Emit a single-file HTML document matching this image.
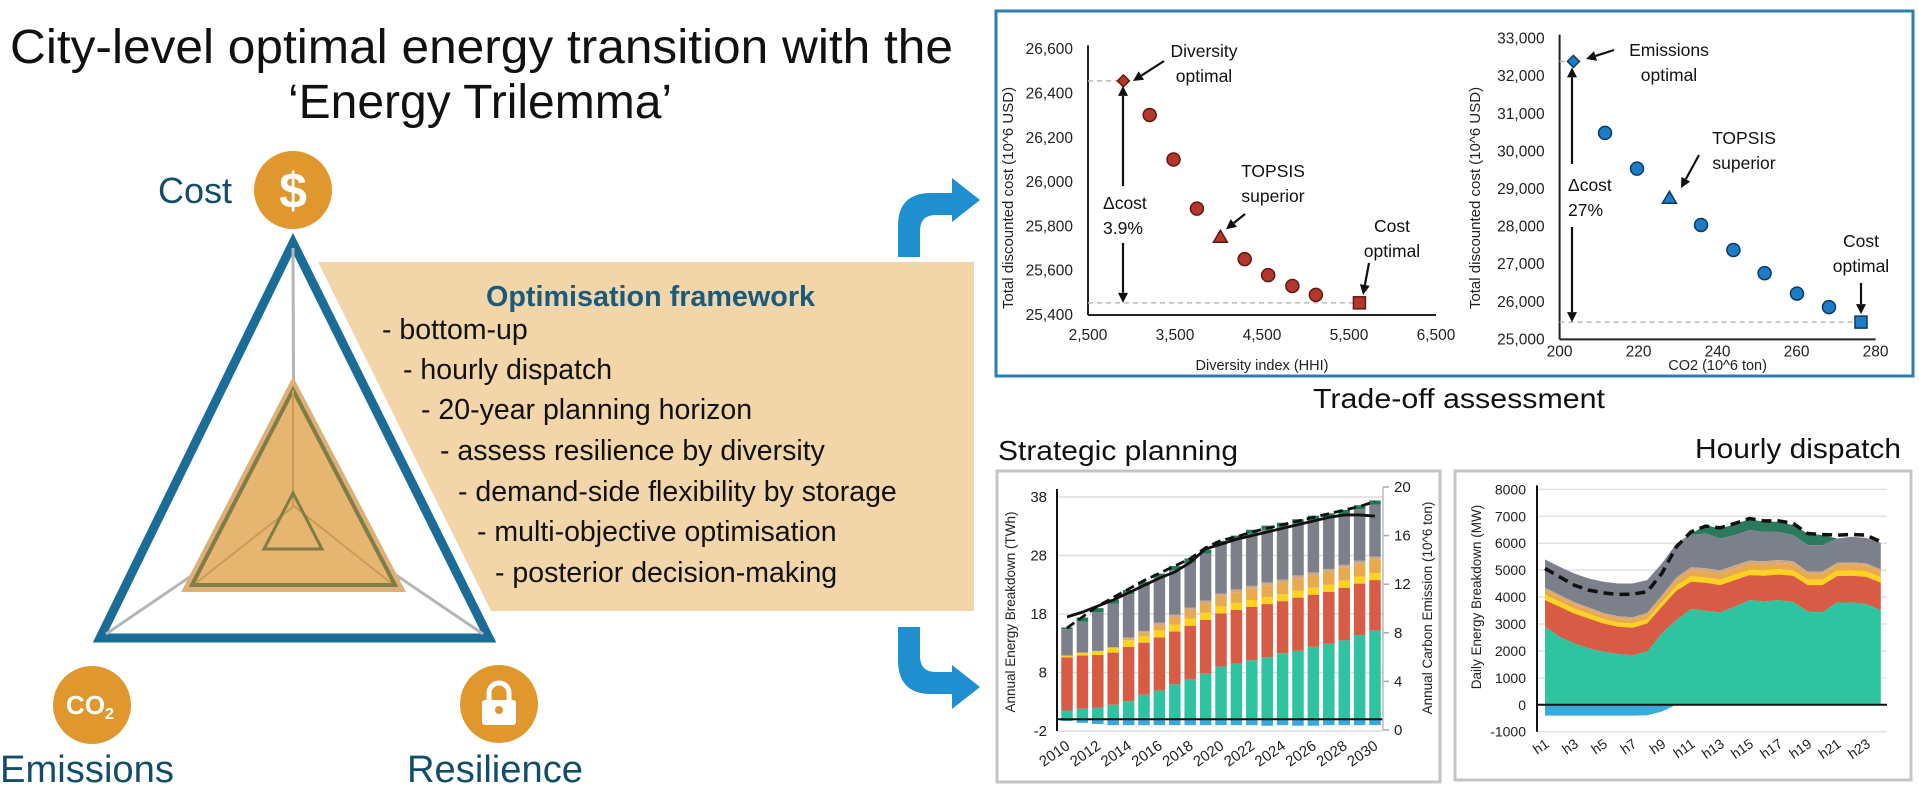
<!DOCTYPE html>
<html><head><meta charset="utf-8"><style>
html,body{margin:0;padding:0;background:#fff;}
svg{display:block;font-family:"Liberation Sans",Arial,sans-serif;}
</style></head><body>
<svg id="root" width="1919" height="791" viewBox="0 0 1919 791" xmlns="http://www.w3.org/2000/svg">
<rect x="0" y="0" width="1919" height="791" fill="#ffffff"/>
<!-- Title -->
<text x="10" y="63" font-size="48" fill="#111" textLength="943" lengthAdjust="spacingAndGlyphs">City-level optimal energy transition with the</text>
<text x="480" y="118" font-size="48" fill="#111" text-anchor="middle">‘Energy Trilemma’</text>

<!-- Beige framework panel -->
<polygon points="318,262 974,262 974,611 491,611" fill="#f2d5a9"/>
<text x="486" y="306" font-size="29" font-weight="bold" fill="#1b5a7a" textLength="329" lengthAdjust="spacingAndGlyphs">Optimisation framework</text>
<g font-size="28.5" fill="#111">
<text x="382" y="339">- bottom-up</text>
<text x="403" y="379">- hourly dispatch</text>
<text x="421" y="419">- 20-year planning horizon</text>
<text x="440" y="460">- assess resilience by diversity</text>
<text x="458" y="501">- demand-side flexibility by storage</text>
<text x="477" y="541">- multi-objective optimisation</text>
<text x="495" y="582">- posterior decision-making</text>
</g>

<!-- Trilemma triangle -->
<g>
<polygon points="293,243 100,638 489,638" fill="#fff" stroke="#1b6d98" stroke-width="9" stroke-linejoin="miter"/>
<line x1="294" y1="506" x2="293" y2="248" stroke="#b5b5b5" stroke-width="3"/>
<line x1="294" y1="506" x2="106" y2="634" stroke="#b5b5b5" stroke-width="3"/>
<line x1="294" y1="506" x2="483" y2="634" stroke="#b5b5b5" stroke-width="3"/>
<polygon points="293,383 186,589 401,589" fill="#e6b670" stroke="#dcb077" stroke-width="6"/>
<polygon points="293,390 192,585 395,585" fill="none" stroke="#7f7c45" stroke-width="4"/>
<line x1="293" y1="390" x2="293" y2="506" stroke="#c99a58" stroke-width="2"/>
<line x1="294" y1="506" x2="196" y2="583" stroke="#c99a58" stroke-width="2"/>
<line x1="294" y1="506" x2="391" y2="583" stroke="#c99a58" stroke-width="2"/>
<polygon points="293,493 264,549 322,549" fill="none" stroke="#7f7c45" stroke-width="3"/>
</g>

<!-- Icons and labels -->
<text x="158" y="203" font-size="36" fill="#124e6c">Cost</text>
<circle cx="293" cy="190" r="39" fill="#e0982e"/>
<text x="293" y="208" font-size="50" font-weight="bold" fill="#fff" text-anchor="middle">$</text>

<circle cx="92" cy="705" r="39" fill="#e0982e"/>
<text x="90" y="714" font-size="26" font-weight="bold" fill="#fff" text-anchor="middle">CO<tspan font-size="16" dy="5">2</tspan></text>
<text x="0" y="782" font-size="38" fill="#124e6c" textLength="174" lengthAdjust="spacingAndGlyphs">Emissions</text>

<circle cx="499" cy="704" r="39" fill="#e0982e"/>
<path d="M489,703 v-10 a10,10 0 0 1 20,0 v10" fill="none" stroke="#fff" stroke-width="5"/>
<rect x="482" y="700" width="34" height="25" rx="3" fill="#fff"/>
<circle cx="499" cy="710" r="4" fill="#e0982e"/>
<text x="407" y="782" font-size="38" fill="#124e6c" textLength="176" lengthAdjust="spacingAndGlyphs">Resilience</text>

<!-- Blue arrows -->
<path d="M898,257 L898,226 Q898,193 931,193 L952,193 L952,178 L980,200 L952,222 L952,215 L936,215 Q920,215 920,231 L920,257 Z" fill="#1f8fd0"/>
<path d="M898,627 L898,660 Q898,694 931,694 L952,694 L952,709 L980,687 L952,665 L952,672 L936,672 Q920,672 920,656 L920,627 Z" fill="#1f8fd0"/>

<!-- Trade-off box -->
<rect x="996" y="11" width="917" height="365" fill="none" stroke="#2a7fae" stroke-width="3"/>
<text x="1313" y="408" font-size="28" fill="#111" textLength="292" lengthAdjust="spacingAndGlyphs">Trade-off assessment</text>
<g id="scatterL"></g>
<g id="scatterR"></g>

<!-- Strategic planning -->
<text x="998" y="460" font-size="28" fill="#111" textLength="240" lengthAdjust="spacingAndGlyphs">Strategic planning</text>
<rect x="997" y="471" width="443" height="311" fill="#fff" stroke="#c4c4c4" stroke-width="3"/>
<g id="strategic"></g>

<!-- Hourly dispatch -->
<text x="1901" y="458" font-size="28" fill="#111" text-anchor="end" textLength="206" lengthAdjust="spacingAndGlyphs">Hourly dispatch</text>
<rect x="1455" y="471" width="456" height="309" fill="#fff" stroke="#c4c4c4" stroke-width="3"/>
<g id="hourly"></g>
</svg>
<script>
// ---------- Scatter: diversity vs cost ----------
const divX = [2907, 3209, 3483, 3752, 4022, 4301, 4571, 4849, 5119, 5620];
const divCost = [26457, 26303, 26102, 25880, 25751, 25652, 25580, 25531, 25491, 25455];
const divShape = ['diamond','circle','circle','circle','triangle','circle','circle','circle','circle','square'];
const divXTicks = [2500, 3500, 4500, 5500, 6500];
const divXTickLabels = ['2,500','3,500','4,500','5,500','6,500'];
const divYTicks = [25400, 25600, 25800, 26000, 26200, 26400, 26600];
const divYTickLabels = ['25,400','25,600','25,800','26,000','26,200','26,400','26,600'];

// ---------- Scatter: CO2 vs cost ----------
const co2X = [203.5, 211.5, 219.6, 227.8, 235.8, 244.0, 251.9, 260.1, 268.2, 276.3];
const co2Cost = [32394, 30492, 29543, 28755, 28043, 27378, 26761, 26218, 25859, 25460];
const co2Shape = ['diamond','circle','circle','triangle','circle','circle','circle','circle','circle','square'];
const co2XTicks = [200, 220, 240, 260, 280];
const co2XTickLabels = ['200','220','240','260','280'];
const co2YTicks = [25000,26000,27000,28000,29000,30000,31000,32000,33000];
const co2YTickLabels = ['25,000','26,000','27,000','28,000','29,000','30,000','31,000','32,000','33,000'];

// ---------- Strategic planning (2010-2030) ----------
const years = ['2010','2011','2012','2013','2014','2015','2016','2017','2018','2019','2020','2021','2022','2023','2024','2025','2026','2027','2028','2029','2030'];
const yearLabels = ['2010','2012','2014','2016','2018','2020','2022','2024','2026','2028','2030'];
const tealTWh = [1.5,1.8,2.0,2.5,3.1,4.2,4.9,6.0,6.9,7.8,9.0,9.5,10.1,10.6,11.3,11.7,12.4,12.9,13.5,14.4,15.2];
const redTWh = [9.1,9.1,9.0,8.9,9.3,8.9,9.1,9.0,9.1,9.2,9.1,9.2,9.1,9.1,8.9,9.1,8.9,8.9,9.0,8.8,8.6];
const yellowTWh = [0.3,0.5,0.7,0.9,1.1,1.1,1.2,1.2,1.2,1.2,1.2,1.2,1.2,1.2,1.2,1.2,1.2,1.2,1.2,1.2,1.2];
const orangeTWh = [0,0,0,0,0.3,0.6,0.9,1.2,1.4,1.6,1.7,1.8,1.9,2.0,2.0,2.1,2.1,2.2,2.2,2.2,2.3];
const tanTWh = [0,0,0,0,0.2,0.3,0.4,0.5,0.5,0.5,0.5,0.5,0.5,0.5,0.5,0.5,0.5,0.5,0.5,0.5,0.5];
const greenTWh = [0.3,0.7,0.7,0.7,0.7,0.7,0.7,0.7,0.7,0.7,0.7,0.7,0.7,0.7,0.7,0.7,0.7,0.7,0.7,0.7,0.7];
const totalTWh = [15.7,17.4,19.0,20.5,22.1,23.5,24.9,26.2,27.5,29.0,30.5,31.4,32.4,33.1,33.6,34.2,34.8,35.2,35.8,36.6,37.4];
const blueTWh = [-0.3,-0.6,-0.8,-1.0,-1.0,-1.0,-1.0,-1.0,-1.0,-1.0,-1.0,-1.0,-1.0,-1.1,-1.0,-1.1,-1.1,-1.0,-1.0,-1.0,-1.0];
const emisSolid = [9.3,9.7,10.2,10.7,11.3,11.9,12.5,13.0,13.8,14.9,15.3,15.7,16.0,16.3,16.6,16.9,17.2,17.5,17.7,17.7,17.6];
const emisDashed = [8.4,9.3,10.2,10.9,11.6,12.3,12.9,13.5,14.1,15.0,15.6,15.9,16.3,16.6,16.9,17.2,17.5,17.8,18.1,18.4,18.8];
const leftTicks = [-2, 8, 18, 28, 38];
const rightTicks = [0, 4, 8, 12, 16, 20];

// ---------- Hourly dispatch ----------
const hours = ['h1','h2','h3','h4','h5','h6','h7','h8','h9','h10','h11','h12','h13','h14','h15','h16','h17','h18','h19','h20','h21','h22','h23','h24'];
const hourLabels = ['h1','h3','h5','h7','h9','h11','h13','h15','h17','h19','h21','h23'];
const tealMW = [2896,2525,2277,2092,1968,1881,1844,1968,2649,3144,3552,3490,3428,3639,3886,3837,3886,3812,3453,3428,3800,3800,3738,3515];
const redTopMW = [3886,3639,3391,3205,3020,2896,2859,3020,3639,4233,4567,4530,4443,4629,4814,4790,4839,4790,4443,4443,4777,4790,4752,4530];
const yellowMW = [200,190,180,170,160,160,160,160,170,190,200,200,200,200,200,200,200,200,200,200,200,200,200,200];
const orangeMW = [180,170,160,160,150,150,150,150,170,200,220,220,230,230,220,220,220,220,220,220,220,220,220,220];
const tanMW = [80,80,80,80,80,80,80,80,80,100,120,120,120,120,120,120,120,120,80,80,80,80,80,80];
const grayTopMW = [5396,5124,4876,4691,4567,4505,4505,4629,5248,5990,6300,6361,6176,6300,6485,6423,6423,6300,5928,5928,6176,6238,6200,6015];
const greenMW = [0,0,0,0,0,0,0,0,0,0,50,310,371,408,409,372,372,371,433,372,0,0,0,0];
const blueMW = [-400,-400,-400,-400,-400,-400,-400,-390,-250,0,0,0,0,0,0,0,0,0,0,0,0,0,0,0];
const dashedMW = [5062,4752,4443,4257,4158,4097,4109,4196,4876,5866,6423,6634,6572,6733,6918,6832,6832,6733,6361,6324,6300,6324,6300,6052];
const hourlyTicks = [-1000,0,1000,2000,3000,4000,5000,6000,7000,8000];

const NS = 'http://www.w3.org/2000/svg';
function el(tag, attrs, parent) {
  const e = document.createElementNS(NS, tag);
  for (const k in attrs) e.setAttribute(k, attrs[k]);
  parent.appendChild(e);
  return e;
}

// ===== Scatter drawing =====
function drawScatter(g, cfg) {
  const xs = cfg.xs, ys = cfg.ys;
  let ax = el('line', {x1: xs(cfg.xTicks[0]), y1: ys(cfg.yTicks[cfg.yTicks.length-1]) - 4, x2: xs(cfg.xTicks[0]), y2: ys(cfg.yTicks[0]), stroke: '#222', 'stroke-width': 2}, g);
  
  
  let bx = el('line', {x1: xs(cfg.xTicks[0]), y1: ys(cfg.yTicks[0]), x2: xs(cfg.xTicks[cfg.xTicks.length-1]), y2: ys(cfg.yTicks[0]), stroke: '#222', 'stroke-width': 2}, g);
  
  
  cfg.yTicks.forEach((v, i) => {
    const t = el('text', {x: xs(cfg.xTicks[0]) - 15, y: ys(v) + 5, 'font-size': 15.5, 'text-anchor': 'end', fill: '#222'}, g);
    t.textContent = cfg.yLabels[i];
    
    
  });
  cfg.xTicks.forEach((v, i) => {
    const t = el('text', {x: xs(v), y: ys(cfg.yTicks[0]) + cfg.tickGap, 'font-size': 15.5, 'text-anchor': 'middle', fill: '#222'}, g);
    t.textContent = cfg.xLabels[i];
    
    
  });
  const xt = el('text', {x: (xs(cfg.xTicks[0]) + xs(cfg.xTicks[cfg.xTicks.length-1])) / 2, y: 370, 'font-size': 14.5, 'text-anchor': 'middle', fill: '#222'}, g);
  xt.textContent = cfg.xTitle;
  
  
  const yt = el('text', {x: 0, y: 0, 'font-size': 15, 'text-anchor': 'middle', fill: '#222', transform: 'translate(' + cfg.yTitleX + ',198) rotate(-90)'}, g);
  yt.textContent = 'Total discounted cost (10^6 USD)';
  
  
  [0, cfg.vx.length - 1].forEach(i => {
    const d = el('line', {x1: xs(cfg.xTicks[0]), x2: xs(cfg.vx[i]), y1: ys(cfg.vy[i]), y2: ys(cfg.vy[i]), stroke: '#bbb', 'stroke-width': 1.5, 'stroke-dasharray': '5,4'}, g);
    
    
  });
  cfg.vx.forEach((v, i) => {
    const cx = xs(v), cy = ys(cfg.vy[i]);
    const sh = cfg.shapes[i];
    let p;
    if (sh === 'circle') p = el('circle', {cx: cx, cy: cy, r: 6.5}, g);
    else if (sh === 'diamond') p = el('polygon', {points: [cx, cy-6, cx+6, cy, cx, cy+6, cx-6, cy].join(',')}, g);
    else if (sh === 'triangle') p = el('polygon', {points: [cx, cy-7, cx+7, cy+5, cx-7, cy+5].join(',')}, g);
    else p = el('rect', {x: cx-6, y: cy-6, width: 12, height: 12}, g);
    p.setAttribute('fill', cfg.fill);
    p.setAttribute('stroke', cfg.stroke);
    p.setAttribute('stroke-width', 1.5);
    
    
  });
}
const xsL = v => 1088 + (v - 2500) * 0.087;
const ysL = v => 315 - (v - 25400) * 0.2215;
drawScatter(document.getElementById('scatterL'), {xs: xsL, ys: ysL, xTicks: divXTicks, xLabels: divXTickLabels, yTicks: divYTicks, yLabels: divYTickLabels, vx: divX, vy: divCost, shapes: divShape, fill: '#b5362a', stroke: '#5e1a10', xTitle: 'Diversity index (HHI)', yTitleX: 1013, tickGap: 25});
const xsR = v => 1559.6 + (v - 200) * 3.95;
const ysR = v => 38.6 + (33000 - v) * 0.0376;
drawScatter(document.getElementById('scatterR'), {xs: xsR, ys: ysR, xTicks: co2XTicks, xLabels: co2XTickLabels, yTicks: co2YTicks, yLabels: co2YTickLabels, vx: co2X, vy: co2Cost, shapes: co2Shape, fill: '#1c7cc8', stroke: '#0c3a60', xTitle: 'CO2 (10^6 ton)', yTitleX: 1480, tickGap: 17});

function ann(g, lines, x, y, anchor) {
  lines.forEach((s, i) => {
    const t = el('text', {x: x, y: y + i * 25, 'font-size': 17.5, 'text-anchor': anchor, fill: '#111'}, g);
    t.textContent = s;
    
    
  });
}
function arrow(g, x1, y1, x2, y2) {
  const a = Math.atan2(y2 - y1, x2 - x1), L = 10, W = 5;
  const bx = x2 - L * Math.cos(a), by = y2 - L * Math.sin(a);
  const ln = el('line', {x1: x1, y1: y1, x2: bx, y2: by, stroke: '#111', 'stroke-width': 2.2}, g);
  
  
  const hd = el('polygon', {points: [x2, y2, bx + W * Math.sin(a), by - W * Math.cos(a), bx - W * Math.sin(a), by + W * Math.cos(a)].join(','), fill: '#111'}, g);
  
  
}
const gL = document.getElementById('scatterL'), gR = document.getElementById('scatterR');
ann(gL, ['Diversity', 'optimal'], 1204, 57, 'middle');
arrow(gL, 1164, 61, 1133, 81);
ann(gL, ['TOPSIS', 'superior'], 1273, 177, 'middle');
arrow(gL, 1245, 214, 1226, ysL(divCost[4]) - 8);
ann(gL, ['\u0394cost', '3.9%'], 1103, 209, 'start');
arrow(gL, 1123, 186, 1123, ysL(divCost[0]) + 5);
arrow(gL, 1123, 243, 1123, ysL(divCost[divCost.length-1]));
ann(gL, ['Cost', 'optimal'], 1392, 232, 'middle');
arrow(gL, 1369, 263, 1363, ysL(divCost[divCost.length-1]) - 8);
ann(gR, ['Emissions', 'optimal'], 1669, 56, 'middle');
arrow(gR, 1614, 50, 1586, 59);
ann(gR, ['TOPSIS', 'superior'], 1744, 144, 'middle');
arrow(gR, 1699, 155, 1681, 188);
ann(gR, ['\u0394cost', '27%'], 1568, 191, 'start');
arrow(gR, 1572, 164, 1572, ysR(co2Cost[0]) + 6);
arrow(gR, 1572, 227, 1572, ysR(co2Cost[co2Cost.length-1]));
ann(gR, ['Cost', 'optimal'], 1861, 247, 'middle');
arrow(gR, 1861, 283, 1861, ysR(co2Cost[co2Cost.length-1]) - 8);

// ===== Strategic chart =====
(function () {
  const g = document.getElementById('strategic');
  const yLft = v => 731 - (v + 2) * 5.85;
  const yRgt = v => 730 - v * 12.15;
  const xB = i => 1067 + i * 15.4;
  const bw = 11.5;
  leftTicks.forEach(v => {
    const gl = el('line', {x1: 1057, x2: 1383, y1: yLft(v), y2: yLft(v), stroke: '#dedede', 'stroke-width': 1.5}, g);
    
    
    const t = el('text', {x: 1047, y: yLft(v) + 5, 'font-size': 15, 'text-anchor': 'end', fill: '#222'}, g);
    t.textContent = String(v);
    
    
  });
  rightTicks.forEach(v => {
    const tk = el('line', {x1: 1383, x2: 1389, y1: yRgt(v), y2: yRgt(v), stroke: '#aaa', 'stroke-width': 1.5}, g);
    
    
    const t = el('text', {x: 1394, y: yRgt(v) + 5, 'font-size': 15, fill: '#222'}, g);
    t.textContent = String(v);
    
    
  });
  const colors = ['#2ec4a0', '#d85c45', '#ffd21f', '#e9a94d', '#cfa985', '#7b808a', '#1f7a5a'];
  const names = ['bar-renewable', 'bar-gas', 'bar-yellow', 'bar-orange', 'bar-tan', 'bar-grid', 'bar-cap'];
  years.forEach((yr, i) => {
    const redTop = tealTWh[i] + redTWh[i];
    const grayAmt = totalTWh[i] - greenTWh[i] - redTop - yellowTWh[i] - orangeTWh[i] - tanTWh[i];
    const parts = [tealTWh[i], redTWh[i], yellowTWh[i], orangeTWh[i], tanTWh[i], grayAmt, greenTWh[i]];
    let base = 0;
    parts.forEach((amt, k) => {
      if (amt <= 0) return;
      const r = el('rect', {x: xB(i) - bw / 2, y: yLft(base + amt), width: bw, height: yLft(base) - yLft(base + amt), fill: colors[k]}, g);
      
      
      base += amt;
    });
    const nb = el('rect', {x: xB(i) - bw / 2, y: yLft(0), width: bw, height: yLft(blueTWh[i]) - yLft(0), fill: '#3aa8dc'}, g);
    
    
  });
  const zl = el('line', {x1: 1057, x2: 1383, y1: yLft(0), y2: yLft(0), stroke: '#111', 'stroke-width': 2}, g);
  
  
  const la = el('line', {x1: 1057, x2: 1057, y1: yLft(38) - 8, y2: yLft(-2), stroke: '#111', 'stroke-width': 2}, g);
  
  
  const ra = el('line', {x1: 1383, x2: 1383, y1: yRgt(20), y2: yRgt(0), stroke: '#bbb', 'stroke-width': 1.5}, g);
  
  
  const ps = emisSolid.map((v, i) => xB(i) + ',' + yRgt(v)).join(' ');
  const sl = el('polyline', {points: ps, fill: 'none', stroke: '#111', 'stroke-width': 2.8}, g);
  
  
  const pd = emisDashed.map((v, i) => xB(i) + ',' + yRgt(v)).join(' ');
  const dl = el('polyline', {points: pd, fill: 'none', stroke: '#111', 'stroke-width': 2.8, 'stroke-dasharray': '9,5'}, g);
  
  
  yearLabels.forEach(lbl => {
    const i = years.indexOf(lbl);
    const t = el('text', {x: 0, y: 0, 'font-size': 15, 'text-anchor': 'end', fill: '#222', transform: 'translate(' + (xB(i) + 4) + ',' + 748 + ') rotate(-35)'}, g);
    t.textContent = lbl;
    
    
  });
  const lt = el('text', {x: 0, y: 0, 'font-size': 13.5, 'text-anchor': 'middle', fill: '#222', transform: 'translate(1015,612) rotate(-90)'}, g);
  lt.textContent = 'Annual Energy Breakdown (TWh)';
  
  
  const rt = el('text', {x: 0, y: 0, 'font-size': 13.5, 'text-anchor': 'middle', fill: '#222', transform: 'translate(1432,608) rotate(-90)'}, g);
  rt.textContent = 'Annual Carbon Emission (10^6 ton)';
  
  
})();

// ===== Hourly chart =====
(function () {
  const g = document.getElementById('hourly');
  const yH = v => 704.8 - v * 0.02693;
  const xH = i => 1545 + i * 14.6;
  hourlyTicks.forEach(v => {
    const gl = el('line', {x1: 1537, x2: 1887, y1: yH(v), y2: yH(v), stroke: '#e2e2e2', 'stroke-width': 1.5}, g);
    
    
    const t = el('text', {x: 1526, y: yH(v) + 5, 'font-size': 14, 'text-anchor': 'end', fill: '#222'}, g);
    t.textContent = String(v);
    
    
  });
  function area(lo, hi, color, name) {
    let d = 'M' + hours.map((h, i) => xH(i) + ',' + yH(hi[i])).join(' L');
    for (let i = hours.length - 1; i >= 0; i--) d += ' L' + xH(i) + ',' + yH(lo[i]);
    d += ' Z';
    const p = el('path', {d: d, fill: color}, g);
    
    
  }
  const zero = hours.map(() => 0);
  const yTop = redTopMW.map((v, i) => v + yellowMW[i]);
  const oTop = yTop.map((v, i) => v + orangeMW[i]);
  const tTop = oTop.map((v, i) => v + tanMW[i]);
  const gTop = grayTopMW.map((v, i) => v + greenMW[i]);
  area(grayTopMW, gTop, '#2b7a5c', 'area-cap');
  area(tTop, grayTopMW, '#7b808a', 'area-grid');
  area(oTop, tTop, '#cfa985', 'area-tan');
  area(yTop, oTop, '#e9a94d', 'area-orange');
  area(redTopMW, yTop, '#ffd21f', 'area-yellow');
  area(tealMW, redTopMW, '#d85c45', 'area-gas');
  area(zero, tealMW, '#2ec4a0', 'area-renewable');
  area(blueMW, zero, '#37aae0', 'area-storage');
  const pd = dashedMW.map((v, i) => xH(i) + ',' + yH(v)).join(' ');
  const dl = el('polyline', {points: pd, fill: 'none', stroke: '#111', 'stroke-width': 3.5, 'stroke-dasharray': '10,6'}, g);
  
  
  const zl = el('line', {x1: 1537, x2: 1887, y1: yH(0), y2: yH(0), stroke: '#111', 'stroke-width': 2}, g);
  
  
  const ax = el('line', {x1: 1537, x2: 1537, y1: yH(8000) - 4, y2: yH(-1000), stroke: '#111', 'stroke-width': 2}, g);
  
  
  hourLabels.forEach(lbl => {
    const i = hours.indexOf(lbl);
    const t = el('text', {x: 0, y: 0, 'font-size': 14, 'text-anchor': 'end', fill: '#222', transform: 'translate(' + (xH(i) + 5) + ',' + 746 + ') rotate(-35)'}, g);
    t.textContent = lbl;
    
    
  });
  const yt = el('text', {x: 0, y: 0, 'font-size': 13.5, 'text-anchor': 'middle', fill: '#222', transform: 'translate(1481,597) rotate(-90)'}, g);
  yt.textContent = 'Daily Energy Breakdown (MW)';
  
  
})();
</script>
</body></html>
